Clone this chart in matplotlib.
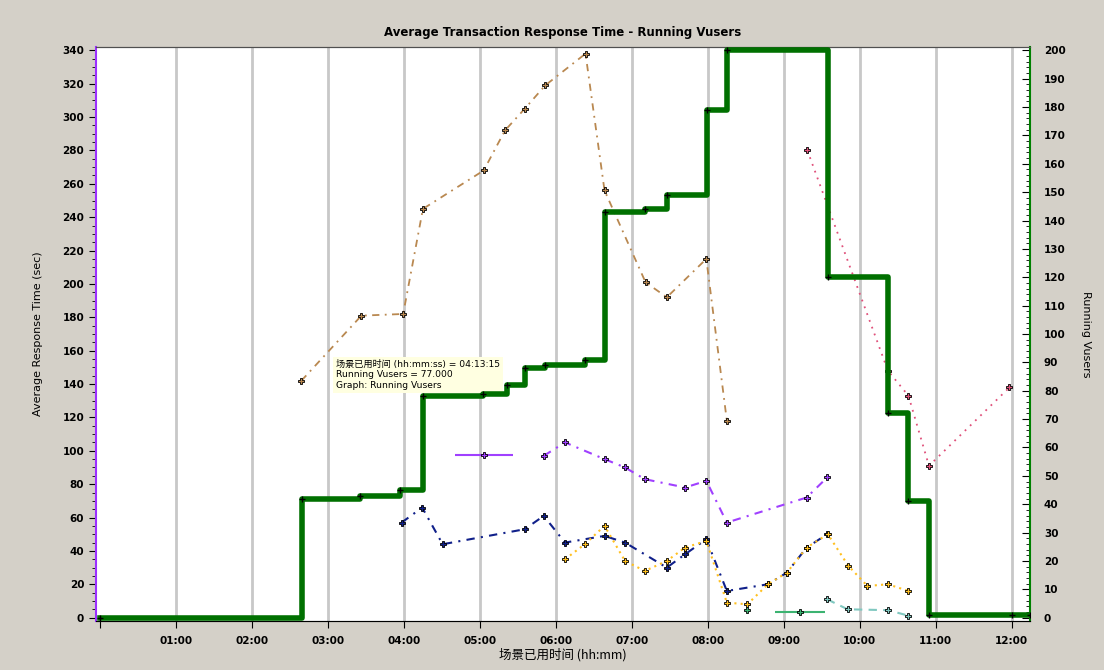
import matplotlib
matplotlib.use("Agg")
import matplotlib.pyplot as plt
from matplotlib.ticker import MultipleLocator, FuncFormatter

plt.rcParams['font.family'] = ['DejaVu Sans', 'Noto Sans CJK SC']

# elapsed time in hours
vusers_t = [0, 2.66, 3.42, 3.95, 4.25, 5.04, 5.36, 5.59, 5.86, 6.38, 6.64, 7.17, 7.46,
            7.99, 8.25, 9.58, 10.37, 10.63, 10.91, 12.0, 12.24]
vusers_v = [0, 42, 43, 45, 78, 79, 82, 88, 89, 91, 143, 144, 149, 179, 200, 120, 72, 41,
            1, 1, 1]

brown_t = [2.65, 3.44, 3.99, 4.25, 5.05, 5.33, 5.59, 5.86, 6.39, 6.64, 7.18, 7.46, 7.98, 8.25]
brown_v = [142, 181, 182, 245, 268, 292, 305, 319, 338, 256, 201, 192, 215, 118]

pink_t = [9.31, 10.37, 10.64, 10.91, 11.97]
pink_v = [280, 148, 133, 91, 138]

purple_single_t = [5.05]
purple_single_v = [97.6]
purple_t = [5.84, 6.12, 6.64, 6.91, 7.17, 7.70, 7.98, 8.25, 9.30, 9.57]
purple_v = [97, 105, 95, 90, 83, 78, 82, 57, 72, 84]

navy_t = [3.97, 4.24, 4.51, 5.59, 5.84, 6.12, 6.64, 6.91, 7.46, 7.70, 7.98, 8.25, 8.79,
          9.04, 9.30, 9.57]
navy_v = [57, 66, 44, 53, 61, 45, 49, 45, 30, 38, 47, 16, 20, 27, 42, 50]

yellow_t = [6.12, 6.38, 6.64, 6.91, 7.17, 7.46, 7.70, 7.98, 8.25, 8.52, 8.79, 9.04, 9.30,
            9.58, 9.85, 10.10, 10.37, 10.64]
yellow_v = [35, 44, 55, 34, 28, 34, 42, 46, 9, 8, 20, 27, 42, 50, 31, 19, 20, 16]

green_single_t = [8.52, 9.21]
green_single_v = [4.4, 3.6]

teal_t = [9.57, 9.84, 10.37, 10.64]
teal_v = [11, 5, 4.5, 1.2]

hours = list(range(1, 13))

fig = plt.figure(figsize=(11.04, 6.70), dpi=100, facecolor='#d4d0c8')
ax = fig.add_axes([96 / 1104, 49 / 670, 934 / 1104, 574 / 670])
ax2 = ax.twinx()

ax.set_xlim(-0.053, 12.24)
ax.set_ylim(-2, 342)
ax2.set_ylim(-2 * 200 / 340, 342 * 200 / 340)

for h in hours:
    ax.axvline(h, color='#c8c8c8', lw=2, zorder=0)

mk = dict(marker='P', markersize=4.5, markeredgecolor='black', markeredgewidth=0.6)

ax.plot(brown_t, brown_v, color='#b98850', lw=1.3, ls=(0, (4, 3, 1, 3)), **mk)
ax.plot(pink_t, pink_v, color='#e0507a', lw=1.3, ls=(0, (1, 3)), **mk)
ax.plot(purple_t, purple_v, color='#a040ff', lw=1.5, ls=(0, (4, 3, 1, 3)), **mk)
ax.errorbar(purple_single_t, purple_single_v, xerr=0.38, color='#a040ff', elinewidth=1.5,
            capsize=0, **mk)
ax.plot(navy_t, navy_v, color='#10208a', lw=1.5, ls=(0, (4, 3, 1, 3)), **mk)
ax.plot(yellow_t, yellow_v, color='#ffc020', lw=1.5, ls=(0, (1, 2)), **mk)
ax.errorbar(green_single_t, green_single_v, xerr=[0, 0.33], color='#3cb371', elinewidth=1.5,
            capsize=0, ls='none', **mk)
ax.plot(teal_t, teal_v, color='#80c8c0', lw=1.5, ls=(0, (4, 3)), **mk)

ax2.plot(vusers_t, vusers_v, color='#007000', lw=4, drawstyle='steps-post', zorder=5)
ax2.plot(vusers_t, vusers_v, ls='none', marker='+', color='black', markersize=5, zorder=6)

# tooltip
ax.text(0.257, 0.455, "场景已用时间 (hh:mm:ss) = 04:13:15\nRunning Vusers = 77.000\nGraph: Running Vusers",
        transform=ax.transAxes, fontsize=6.6, va='top', ha='left', zorder=10, linespacing=1.2,
        family=['DejaVu Sans', 'Noto Sans CJK SC'],
        bbox=dict(boxstyle='square,pad=0.3', facecolor='#ffffe1', edgecolor='none'))

ax.xaxis.set_major_locator(MultipleLocator(1))
ax.xaxis.set_major_formatter(FuncFormatter(lambda v, p: "%02d:00" % v if v >= 1 else ""))
ax.yaxis.set_major_locator(MultipleLocator(20))
ax.yaxis.set_minor_locator(MultipleLocator(5))
ax2.yaxis.set_major_locator(MultipleLocator(10))
ax2.yaxis.set_minor_locator(MultipleLocator(2))

ax.tick_params(axis='x', direction='out', length=5, labelsize=7.5, pad=6)
ax.tick_params(axis='y', which='major', direction='out', length=5, labelsize=7.5)
ax.tick_params(axis='y', which='minor', direction='out', length=3)
ax2.tick_params(axis='y', which='major', direction='in', length=6, labelsize=7.5, pad=10)
ax2.tick_params(axis='y', which='minor', direction='in', length=3)
for lab in ax.get_yticklabels() + ax2.get_yticklabels() + ax.get_xticklabels():
    lab.set_fontweight('bold')

ax.spines['left'].set_color('#9b30ff')
ax.spines['left'].set_linewidth(1.5)
ax2.spines['left'].set_visible(False)
ax2.spines['right'].set_color('#008000')
ax2.spines['right'].set_linewidth(1.5)
ax.spines['right'].set_visible(False)
ax.spines['top'].set_color('#505050')
ax2.spines['top'].set_color('#505050')
ax.spines['bottom'].set_color('#505050')

ax.set_ylabel("Average Response Time (sec)", fontsize=8, labelpad=14)
ax2.set_ylabel("Running Vusers", fontsize=8, rotation=270, labelpad=18)
fig.text(0.51, 0.951, "Average Transaction Response Time - Running Vusers", ha='center',
         va='center', fontsize=8.5, fontweight='bold')
fig.text(0.51, 0.022, "场景已用时间 (hh:mm)", ha='center', va='center', fontsize=9,
         family=['Noto Sans CJK SC', 'DejaVu Sans'])

fig.savefig("out.png", dpi=100, facecolor=fig.get_facecolor())
